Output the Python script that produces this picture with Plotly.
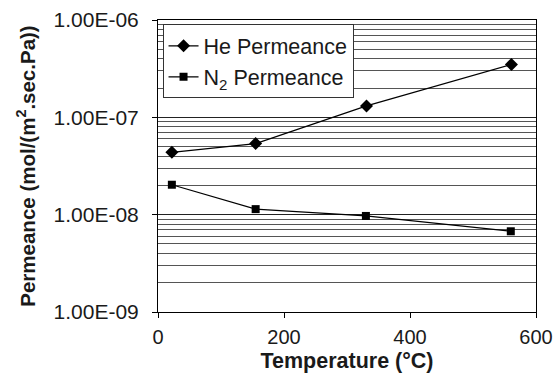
import plotly.graph_objects as go

temp_he = [22, 155, 331, 561]
perm_he = [4.37e-8, 5.37e-8, 1.31e-7, 3.5e-7]
temp_n2 = [22, 155, 330, 560]
perm_n2 = [2.03e-8, 1.14e-8, 9.7e-9, 6.75e-9]

y_major = [1e-9, 1e-8, 1e-7, 1e-6]
y_major_text = ["1.00E-09", "1.00E-08", "1.00E-07", "1.00E-06"]
x_ticks = [0, 200, 400, 600]

minor_vals = [m * 10.0 ** e for e in (-9, -8, -7) for m in range(2, 10)]

FONT = "Liberation Sans, Arial, sans-serif"

fig = go.Figure()
fig.add_trace(go.Scatter(
    x=temp_he, y=perm_he, mode="lines+markers", name="He Permeance",
    line=dict(color="black", width=1.2),
    marker=dict(symbol="diamond", size=10, color="black"),
))
fig.add_trace(go.Scatter(
    x=temp_n2, y=perm_n2, mode="lines+markers", name="N<sub>2</sub> Permeance",
    line=dict(color="black", width=1.2),
    marker=dict(symbol="square", size=8, color="black"),
))

fig.update_layout(
    width=558, height=373,
    margin=dict(l=158, r=22, t=20, b=61),
    paper_bgcolor="white", plot_bgcolor="white",
    font=dict(family=FONT, size=20, color="#1a1a1a"),
    showlegend=True,
    legend=dict(
        x=0.012, y=0.985, xanchor="left", yanchor="top",
        bgcolor="white", bordercolor="#333", borderwidth=1,
        font=dict(size=21.5), tracegroupgap=0,
    ),
)
fig.update_xaxes(
    range=[0, 600], tickvals=x_ticks, ticks="outside", ticklen=5,
    tickcolor="black", showline=True, linecolor="black", linewidth=1,
    mirror=True, showgrid=False, zeroline=False, automargin=False,
    tickfont=dict(size=20), ticklabelstandoff=2,
    title=dict(text="<b>Temperature (°C)</b>", font=dict(size=21.5), standoff=13),
)
fig.update_yaxes(
    type="log", range=[-9, -6], tickvals=y_major, ticktext=y_major_text,
    ticks="outside", ticklen=5, tickcolor="black",
    showline=True, linecolor="black", linewidth=1, mirror=True,
    showgrid=True, gridcolor="#222", gridwidth=1,
    minor=dict(tickvals=minor_vals, showgrid=True, gridcolor="#555", gridwidth=1, ticks=""),
    zeroline=False, tickfont=dict(size=21), automargin=False, ticklabelstandoff=9,
    title=dict(text="<b>Permeance (mol/(m<sup>2</sup>.sec.Pa))</b>", font=dict(size=20.5), standoff=12),
)

fig.write_html("out.html")
